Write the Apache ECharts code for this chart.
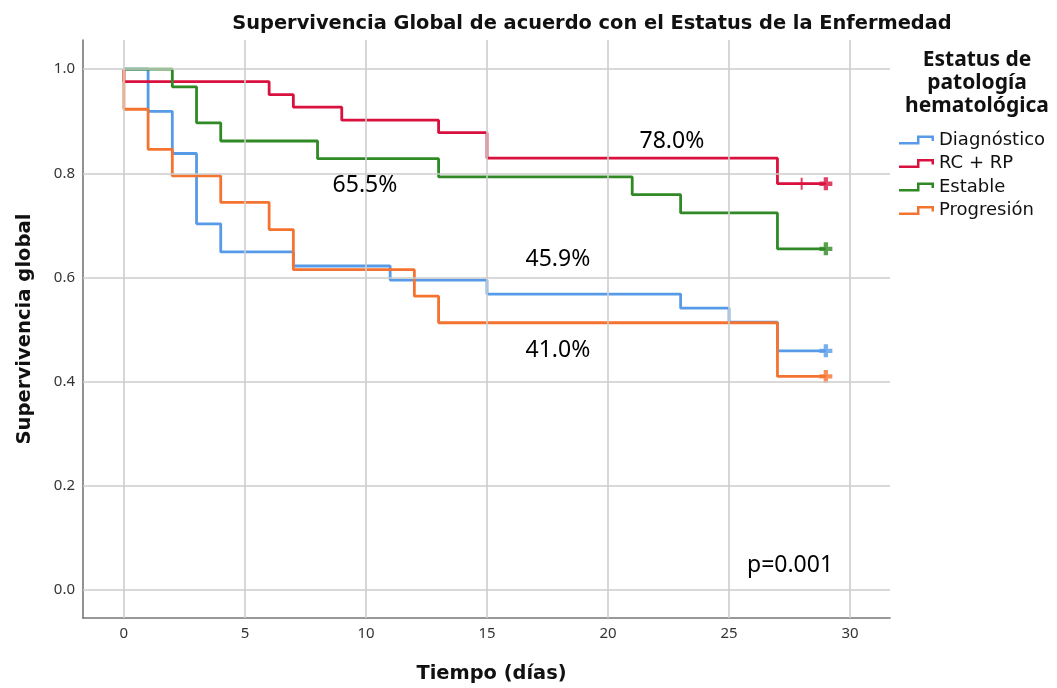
<!DOCTYPE html>
<html>
<head>
<meta charset="utf-8">
<script src="https://cdn.jsdelivr.net/npm/echarts@6/dist/echarts.min.js"></script>
<style>
  html, body { margin: 0; padding: 0; background: #ffffff; }
  #chart { width: 1057px; height: 688px; }
</style>
</head>
<body>
<div id="chart"></div>
<script>
// Axis ticks
const xTicks = [0, 5, 10, 15, 20, 25, 30];
const yTicks = [0.0, 0.2, 0.4, 0.6, 0.8, 1.0];

// Kaplan-Meier estimates: event times (days) and survival after each time
const groups = ['Diagnóstico', 'RC + RP', 'Estable', 'Progresión'];

const timesDiag = [0, 1, 2, 3, 4, 7, 11, 15, 23, 25, 27, 29];
const survDiag  = [1.000, 0.919, 0.838, 0.703, 0.649, 0.622, 0.595, 0.568, 0.541, 0.514, 0.459, 0.459];
const censorDiag = [29];

const timesRcRp = [0, 0, 6, 7, 9, 13, 15, 27, 29];
const survRcRp  = [1.000, 0.976, 0.951, 0.927, 0.902, 0.878, 0.829, 0.780, 0.780];
const censorRcRp = [28, 29];

const timesEstable = [0, 2, 3, 4, 8, 13, 21, 23, 27, 29];
const survEstable  = [1.000, 0.966, 0.897, 0.862, 0.828, 0.793, 0.759, 0.724, 0.655, 0.655];
const censorEstable = [29];

const timesProg = [0, 0, 1, 2, 4, 6, 7, 12, 13, 27, 29];
const survProg  = [1.000, 0.923, 0.846, 0.795, 0.744, 0.692, 0.615, 0.564, 0.513, 0.410, 0.410];
const censorProg = [29];

const pValue = '0.001';

// ---- chart construction ----
const colors = ['#579be8', '#d9113e', '#2f8a25', '#f57330'];
const curves = [
  { t: timesDiag, s: survDiag, c: censorDiag },
  { t: timesRcRp, s: survRcRp, c: censorRcRp },
  { t: timesEstable, s: survEstable, c: censorEstable },
  { t: timesProg, s: survProg, c: censorProg }
];

function survivalAt(curve, time) {
  let v = curve.s[0];
  for (let i = 0; i < curve.t.length; i++) {
    if (curve.t[i] <= time) v = curve.s[i];
  }
  return v;
}

const followUpEnd = 29;
const plusBold = 'path://M4,0 H8 V4 H12 V8 H8 V12 H4 V8 H0 V4 H4 Z';
const plusThin = 'path://M5,0 H7 V5 H12 V7 H7 V12 H5 V7 H0 V5 H5 Z';
const legendIcon = 'path://M0,6.5 L18,6.5 L18,0 L35,0 L35,5.5 L32.5,5.5 L32.5,2.5 L20.5,2.5 L20.5,9 L0,9 Z';

const series = [];

// grid lines drawn beneath the curves
series.push({
  name: 'grid',
  type: 'line',
  data: [],
  z: 1,
  silent: true,
  markLine: {
    silent: true,
    animation: false,
    symbol: ['none', 'none'],
    label: { show: false },
    emphasis: { disabled: true },
    lineStyle: { color: '#cdcdcd', width: 1.6, type: 'solid' },
    data: xTicks.map(v => ({ xAxis: v })).concat(yTicks.map(v => ({ yAxis: v })))
  }
});

curves.forEach((cv, i) => {
  series.push({
    name: groups[i],
    type: 'line',
    step: 'end',
    showSymbol: false,
    symbol: 'none',
    z: 2,
    color: colors[i],
    lineStyle: { width: 2.8, color: colors[i] },
    data: cv.t.map((t, k) => [t, cv.s[k]])
  });
});

curves.forEach((cv, i) => {
  series.push({
    name: groups[i] + ' (censurado)',
    type: 'scatter',
    z: 3,
    symbolKeepAspect: true,
    itemStyle: { color: colors[i] },
    data: cv.c.map(t => ({
      value: [t, survivalAt(cv, t)],
      symbol: t === followUpEnd ? plusBold : plusThin,
      symbolSize: t === followUpEnd ? 13 : 12
    }))
  });
});

const chart = echarts.init(document.getElementById('chart'), null, { renderer: 'canvas' });
chart.setOption({
  animation: false,
  backgroundColor: '#ffffff',
  title: {
    text: 'Supervivencia Global de acuerdo con el Estatus de la Enfermedad',
    left: 587,
    top: 9,
    textAlign: 'center',
    textStyle: { fontFamily: 'DejaVu Sans', fontWeight: 'bold', fontSize: 19.4, color: '#111111' }
  },
  grid: { left: 83, right: 167, top: 40, bottom: 69, containLabel: false },
  xAxis: {
    type: 'value',
    min: -1.69,
    max: 31.65,
    name: 'Tiempo (días)',
    nameLocation: 'middle',
    nameGap: 46,
    nameTextStyle: { fontFamily: 'DejaVu Sans', fontWeight: 'bold', fontSize: 19.4, color: '#111111', padding: [0, 0, 0, 10] },
    axisLine: { show: true, onZero: false, lineStyle: { color: '#777777', width: 1.6 } },
    axisTick: { show: false },
    splitLine: { show: false },
    axisLabel: {
      customValues: xTicks,
      margin: 8,
      fontFamily: 'Noto Sans',
      fontSize: 15,
      color: '#333333'
    }
  },
  yAxis: {
    type: 'value',
    min: -0.054,
    max: 1.056,
    name: 'Supervivencia global',
    nameLocation: 'middle',
    nameGap: 48,
    nameTextStyle: { fontFamily: 'DejaVu Sans', fontWeight: 'bold', fontSize: 19.6, color: '#111111' },
    axisLine: { show: true, onZero: false, lineStyle: { color: '#777777', width: 1.6 } },
    axisTick: { show: false },
    splitLine: { show: false },
    axisLabel: {
      customValues: yTicks,
      margin: 8,
      fontFamily: 'Noto Sans',
      fontSize: 15,
      color: '#333333',
      formatter: v => v.toFixed(1)
    }
  },
  legend: {
    orient: 'vertical',
    left: 899,
    top: 131,
    padding: 0,
    itemWidth: 35,
    itemHeight: 9,
    itemGap: 5.5,
    icon: legendIcon,
    itemStyle: { borderWidth: 0 },
    data: groups,
    selectedMode: false,
    textStyle: { fontFamily: 'DejaVu Sans', fontSize: 18, color: '#111111', padding: [0, 0, 0, 0] }
  },
  series: series
});

// text annotations: final survival per group and log-rank p value
const pct = v => (v * 100).toFixed(1) + '%';
const finalOf = cv => cv.s[cv.s.length - 1];
const notes = [
  { x: 22.64, y: 0.861, text: pct(finalOf(curves[1])) },
  { x: 9.96, y: 0.776, text: pct(finalOf(curves[2])) },
  { x: 17.93, y: 0.634, text: pct(finalOf(curves[0])) },
  { x: 17.93, y: 0.459, text: pct(finalOf(curves[3])) },
  { x: 27.52, y: 0.046, text: 'p=' + pValue }
];

const graphics = notes.map(n => {
  const [px, py] = chart.convertToPixel({ gridIndex: 0 }, [n.x, n.y]);
  return {
    type: 'text',
    x: px,
    y: py,
    silent: true,
    z: 10,
    style: {
      text: n.text,
      align: 'center',
      verticalAlign: 'middle',
      fontFamily: 'Noto Sans',
      fontSize: 23,
      fill: '#000000'
    }
  };
});

// legend heading
graphics.push({
  type: 'text',
  x: 977,
  y: 49,
  silent: true,
  style: {
    text: 'Estatus de\npatología\nhematológica',
    align: 'center',
    verticalAlign: 'top',
    fontFamily: 'Noto Sans',
    fontWeight: 'bold',
    fontSize: 21,
    lineHeight: 23,
    fill: '#111111'
  }
});

chart.setOption({ graphic: graphics });
</script>
</body>
</html>
